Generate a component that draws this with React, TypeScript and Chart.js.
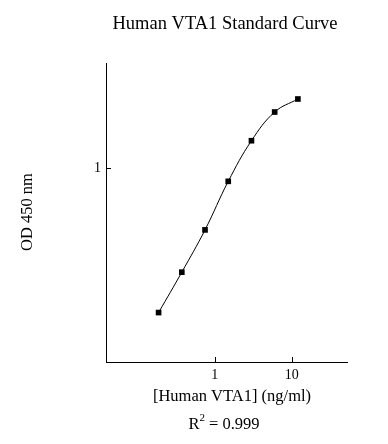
import React, { useEffect, useRef } from "react";
import { Chart, registerables } from "chart.js";

Chart.register(...registerables);

const concentrations = [0.1875, 0.375, 0.75, 1.5, 3, 6, 12];
const odValues = [0.18, 0.291, 0.481, 0.857, 1.389, 1.954, 2.281];
const xTickValues = [1, 10];
const yTickValues = [1];
const titleText = "Human VTA1 Standard Curve";
const xLabelText = "[Human VTA1] (ng/ml)";
const yLabelText = "OD 450 nm";
const r2Value = "0.999";

const SERIF = "'Liberation Serif', 'Times New Roman', serif";

const textPlugin = {
  id: "customText",
  afterDraw(chart: any) {
    const ctx = chart.ctx;
    const area = chart.chartArea;
    const xs = chart.scales.x;
    const ys = chart.scales.y;
    ctx.save();
    // inward tick marks
    ctx.strokeStyle = "#000";
    ctx.lineWidth = 1;
    ctx.beginPath();
    xs.ticks.forEach((t: any) => {
      const px = Math.round(xs.getPixelForValue(t.value)) + 0.5;
      ctx.moveTo(px, area.bottom);
      ctx.lineTo(px, area.bottom - 5);
    });
    ys.ticks.forEach((t: any) => {
      const py = Math.round(ys.getPixelForValue(t.value)) + 0.5;
      ctx.moveTo(area.left, py);
      ctx.lineTo(area.left + 5, py);
    });
    ctx.stroke();

    ctx.fillStyle = "#000";
    ctx.textAlign = "center";
    ctx.textBaseline = "alphabetic";
    // title
    ctx.font = `18.5px ${SERIF}`;
    ctx.fillText(titleText, 225, 29);
    // x label
    ctx.font = `16.5px ${SERIF}`;
    ctx.fillText(xLabelText, 232, 401);
    // R^2 line
    ctx.textAlign = "left";
    const rW = ctx.measureText("R").width;
    ctx.font = `11px ${SERIF}`;
    const sW = ctx.measureText("2").width;
    ctx.font = `16.5px ${SERIF}`;
    const rest = " = " + r2Value;
    const restW = ctx.measureText(rest).width;
    const total = rW + sW + restW;
    const sx = 224 - total / 2;
    ctx.fillText("R", sx, 429);
    ctx.font = `11px ${SERIF}`;
    ctx.fillText("2", sx + rW, 421);
    ctx.font = `16.5px ${SERIF}`;
    ctx.fillText(rest, sx + rW + sW, 429);
    // y label
    ctx.translate(32, 212);
    ctx.rotate(-Math.PI / 2);
    ctx.textAlign = "center";
    ctx.fillText(yLabelText, 0, 0);
    ctx.restore();
  },
};

export default function App() {
  const ref = useRef<HTMLCanvasElement>(null);
  useEffect(() => {
    if (!ref.current) return;
    const chart = new Chart(ref.current, {
      type: "line",
      data: {
        datasets: [
          {
            data: concentrations.map((c, i) => ({ x: c, y: odValues[i] })),
            borderColor: "#000",
            backgroundColor: "#000",
            borderWidth: 1,
            pointStyle: "rect",
            pointRadius: 4,
            pointBorderWidth: 0,
            pointBackgroundColor: "#000",
            tension: 0.4,
            fill: false,
          },
        ],
      },
      options: {
        responsive: false,
        animation: false,
        devicePixelRatio: 1,
        layout: { padding: { left: 0, top: 63, right: 41, bottom: 0 } },
        plugins: {
          legend: { display: false },
          tooltip: { enabled: false },
          title: { display: false },
        },
        scales: {
          x: {
            type: "logarithmic",
            min: 0.039,
            max: 52,
            afterBuildTicks: (s: any) => {
              s.ticks = xTickValues.map((v) => ({ value: v }));
            },
            afterFit: (s: any) => {
              s.height = 82;
            },
            grid: { display: false, drawTicks: false },
            border: { display: true, color: "#000", width: 1 },
            ticks: {
              color: "#000",
              padding: 5,
              maxRotation: 0,
              autoSkip: false,
              font: { family: SERIF, size: 14 },
              callback: (v: any) => String(v),
            },
          },
          y: {
            type: "logarithmic",
            min: 0.1,
            max: 3.5,
            afterBuildTicks: (s: any) => {
              s.ticks = yTickValues.map((v) => ({ value: v }));
            },
            afterFit: (s: any) => {
              s.width = 106;
            },
            grid: { display: false, drawTicks: false },
            border: { display: true, color: "#000", width: 1 },
            ticks: {
              color: "#000",
              padding: 5,
              autoSkip: false,
              font: { family: SERIF, size: 14 },
              callback: (v: any) => String(v),
            },
          },
        },
      },
      plugins: [textPlugin],
    });
    return () => chart.destroy();
  }, []);
  return (
    <div style={{ position: "absolute", left: 0, top: 0, width: 388, height: 444, background: "#fff" }}>
      <canvas ref={ref} width={388} height={444} style={{ width: 388, height: 444 }} />
    </div>
  );
}
